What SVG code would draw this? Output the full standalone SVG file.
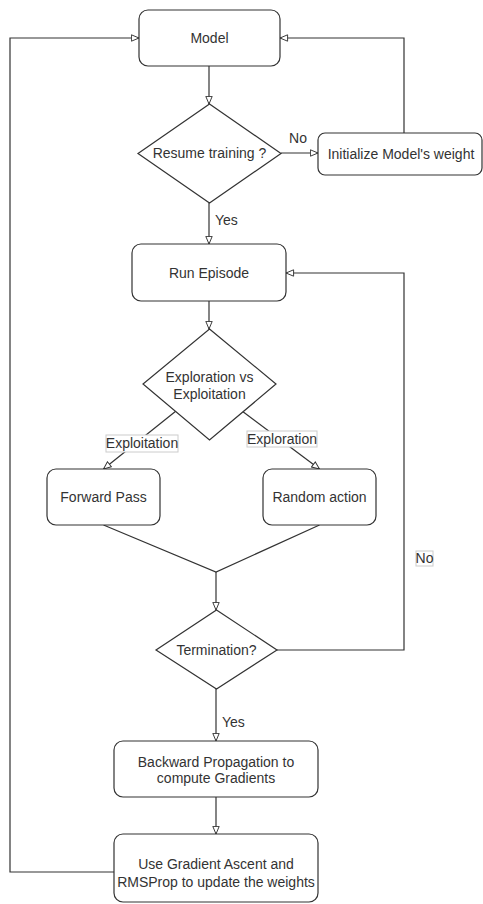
<svg xmlns="http://www.w3.org/2000/svg" width="483" height="904" viewBox="0 0 483 904">
<style>
.n{fill:#fff;stroke:#333;stroke-width:1.2}
.t{font-family:"Liberation Sans",Arial,sans-serif;font-size:14px;fill:#333;text-anchor:middle}
.c{fill:none;stroke:#333;stroke-width:1.2}
.a{marker-end:url(#arr)}
.lb{fill:#fff;stroke:#ccc;stroke-width:1}
</style>
<defs>
<marker id="arr" viewBox="0 0 10 10" refX="10" refY="5" markerWidth="9" markerHeight="8" orient="auto" markerUnits="userSpaceOnUse">
<path d="M0.5,1 L10,5 L0.5,9 z" fill="#fff" stroke="#333" stroke-width="1.2"/>
</marker>
</defs>
<rect width="483" height="904" fill="#fff"/>
<g id="connectors">
<path class="c a" d="M209,66 V104"/>
<path class="c a" d="M281,153 H318"/>
<path class="c a" d="M404,133 V38 H280"/>
<path class="c a" d="M209,203 V244"/>
<path class="c a" d="M209,301 V329"/>
<path class="c a" d="M176,411 L103.5,469"/>
<path class="c a" d="M242,411 L319.5,469"/>
<path class="c" d="M103.5,525 L216,572 L319.5,525"/>
<path class="c a" d="M216,572 V610"/>
<path class="c a" d="M277,650 H404 V273 H286"/>
<path class="c a" d="M216,689 V741"/>
<path class="c a" d="M216,797 V834"/>
<path class="c a" d="M114,872 H10 V38 H139"/>
<text class="t" x="298" y="143">No</text>
<text class="t" x="215" y="225" style="text-anchor:start">Yes</text>
<rect class="lb" x="106" y="435" width="72" height="17"/>
<text class="t" x="142" y="448">Exploitation</text>
<rect class="lb" x="247" y="431" width="70" height="16"/>
<text class="t" x="282" y="444">Exploration</text>
<rect class="lb" x="416" y="551" width="17" height="15"/>
<text class="t" x="424.5" y="563">No</text>
<text class="t" x="222" y="727" style="text-anchor:start">Yes</text>
</g>
<g id="model"><rect class="n" x="139" y="10" width="141" height="56" rx="9"/><text class="t" x="209.5" y="43">Model</text></g>
<g id="resume"><path class="n" d="M209.5,104 L281,153.5 L209.5,203 L138,153.5 Z"/><text class="t" x="209.5" y="158">Resume training ?</text></g>
<g id="init"><rect class="n" x="318" y="133" width="164" height="42" rx="7"/><text class="t" x="401" y="159">Initialize Model's weight</text></g>
<g id="run"><rect class="n" x="132" y="244" width="154" height="57" rx="9"/><text class="t" x="209" y="278">Run Episode</text></g>
<g id="explore"><path class="n" d="M209.5,329 L276,384 L209.5,440 L143,384 Z"/><text class="t" x="209.5" y="382">Exploration vs</text><text class="t" x="209.5" y="399">Exploitation</text></g>
<g id="forward"><rect class="n" x="47" y="469" width="113" height="56" rx="9"/><text class="t" x="103.5" y="502">Forward Pass</text></g>
<g id="random"><rect class="n" x="263" y="469" width="113" height="56" rx="9"/><text class="t" x="319.5" y="502">Random action</text></g>
<g id="term"><path class="n" d="M216.5,610 L277,650 L216.5,689 L156,650 Z"/><text class="t" x="216.5" y="655">Termination?</text></g>
<g id="backward"><rect class="n" x="114" y="741" width="204" height="56" rx="9"/><text class="t" x="216" y="767">Backward Propagation to</text><text class="t" x="216" y="783">compute Gradients</text></g>
<g id="update"><rect class="n" x="114" y="834" width="204" height="68" rx="9"/><text class="t" x="216" y="869">Use Gradient Ascent and</text><text class="t" x="216" y="887">RMSProp to update the weights</text></g>
</svg>
